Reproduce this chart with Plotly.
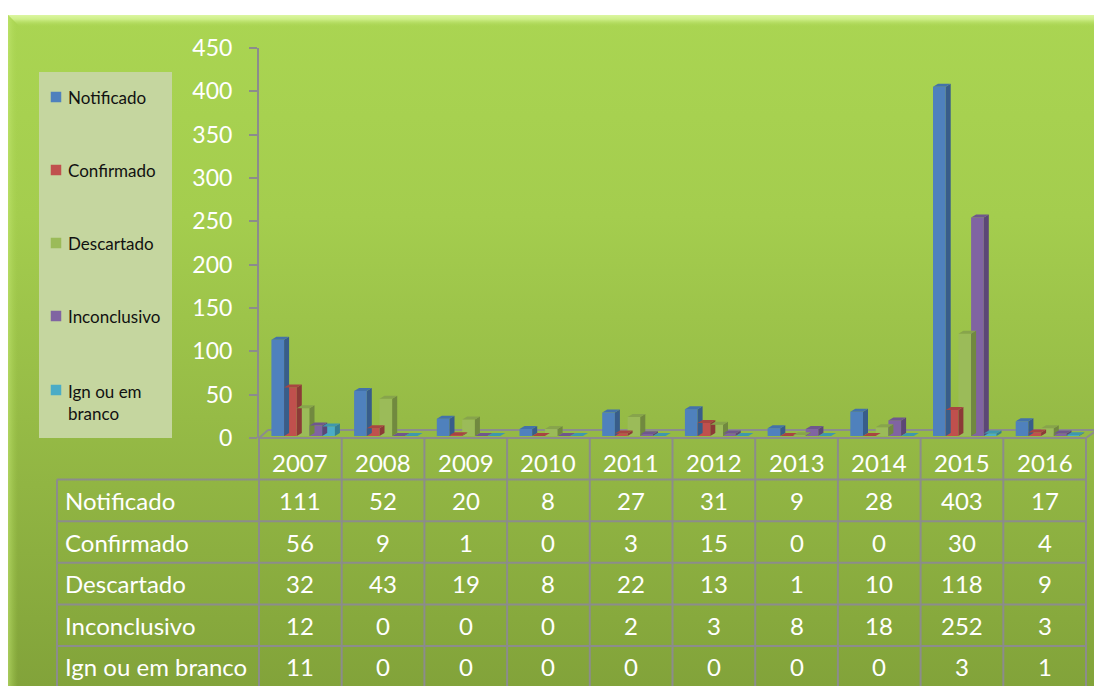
import plotly.graph_objects as go

# ---------------- data ----------------
years = ['2007', '2008', '2009', '2010', '2011', '2012', '2013', '2014', '2015', '2016']
series_names = ['Notificado', 'Confirmado', 'Descartado', 'Inconclusivo', 'Ign ou em branco']
notificado = [111, 52, 20, 8, 27, 31, 9, 28, 403, 17]
confirmado = [56, 9, 1, 0, 3, 15, 0, 0, 30, 4]
descartado = [32, 43, 19, 8, 22, 13, 1, 10, 118, 9]
inconclusivo = [12, 0, 0, 0, 2, 3, 8, 18, 252, 3]
ign_branco = [11, 0, 0, 0, 0, 0, 0, 0, 3, 1]
y_ticks = [0, 50, 100, 150, 200, 250, 300, 350, 400, 450]

series_values = [notificado, confirmado, descartado, inconclusivo, ign_branco]
front_colors = ['#4f81bd', '#c0504d', '#9bbb59', '#8064a2', '#4bacc6']
side_colors = ['#385d8a', '#8c3a37', '#71893f', '#5c4776', '#357d91']
top_colors = ['#4372aa', '#a84542', '#87a44c', '#6f578e', '#3f97ae']
legend_labels = {'Ign ou em branco': 'Ign ou em<br>branco'}

# ---------------- layout geometry (screen pixels) ----------------
W, H = 1102, 686
OFF = 8                 # page body margin: figure origin on screen
PANEL_L, PANEL_T = 8, 15
PLOT_L = 259            # y axis / first table column line
CAT_W = 82.7            # width of one category
Y_ZERO, Y_TOP = 438, 48  # screen rows of 0 and 450
PX_PER_UNIT = (Y_ZERO - Y_TOP) / 450.0
ROW_H = 41.6
LABEL_COL_L = 57
N = len(years)
PLOT_R = PLOT_L + N * CAT_W


def fx(X):
    return (X - OFF) / W


def fy(Y):
    return 1 - (Y - OFF) / H


BAR_OFF = 12.4 / CAT_W
BAR_W = 12.7 / CAT_W
DX = 5.0 / CAT_W
DY = 3.0 / PX_PER_UNIT
BASE = 2.0 / PX_PER_UNIT

GRID = '#8c8c8c'
FONT = 'Lato, "Open Sans", sans-serif'

fig = go.Figure()
SX, SY = W + OFF, H + OFF

# ---------- background (screen-pixel subplot xy) ----------
fig.add_trace(go.Scatter(
    x=[3, PANEL_L, PANEL_L, 3, 3], y=[22, 22, SY, SY, 22], fill='toself', mode='none',
    fillgradient=dict(type='horizontal', start=3, stop=PANEL_L,
                      colorscale=[[0, 'rgba(255,255,255,1)'], [1, 'rgba(175,175,175,1)']]),
    hoverinfo='skip', showlegend=False))
fig.add_trace(go.Scatter(
    x=[PANEL_L, SX, SX, PANEL_L, PANEL_L], y=[PANEL_T, PANEL_T, SY, SY, PANEL_T],
    fill='toself', mode='none',
    fillgradient=dict(type='vertical', start=PANEL_T, stop=H,
                      colorscale=[[0, '#aad552'], [0.3, '#a4cd4e'], [0.6, '#96bb46'],
                                  [1, '#82a33a']]),
    hoverinfo='skip', showlegend=False))
fig.add_trace(go.Scatter(
    x=[PANEL_L, SX, SX, PANEL_L + 12, PANEL_L], y=[PANEL_T, PANEL_T, PANEL_T + 12, PANEL_T + 12, PANEL_T],
    fill='toself', mode='none',
    fillgradient=dict(type='vertical', start=PANEL_T, stop=PANEL_T + 12,
                      colorscale=[[0, 'rgba(225,250,170,0.9)'], [0.35, 'rgba(215,245,150,0.8)'],
                                  [1, 'rgba(170,213,82,0)']]),
    hoverinfo='skip', showlegend=False))
fig.add_trace(go.Scatter(
    x=[PANEL_L, PANEL_L + 10, PANEL_L + 10, PANEL_L, PANEL_L], y=[PANEL_T, PANEL_T + 10, SY, SY, PANEL_T],
    fill='toself', mode='none',
    fillgradient=dict(type='horizontal', start=PANEL_L, stop=PANEL_L + 10,
                      colorscale=[[0, 'rgba(200,235,120,0.55)'], [1, 'rgba(170,213,82,0)']]),
    hoverinfo='skip', showlegend=False))

# legend box
LEG_L, LEG_R, LEG_T, LEG_B = 39, 172, 72, 438
fig.add_trace(go.Scatter(
    x=[LEG_L, LEG_R, LEG_R, LEG_L, LEG_L], y=[LEG_T, LEG_T, LEG_B, LEG_B, LEG_T],
    fill='toself', fillcolor='#c5d69f', mode='none', hoverinfo='skip', showlegend=False))
leg_y = [97, 170, 243, 316, 390]
for name, col, ly in zip(series_names, front_colors, leg_y):
    fig.add_trace(go.Scatter(
        x=[56], y=[ly], mode='markers',
        marker=dict(symbol='square', size=10.5, color=col, line=dict(width=0)),
        hoverinfo='skip', showlegend=False))

# floor (3D base) lines
flx, fly = [], []
floor_dx, floor_dy = 9, 8
for seg in [((PLOT_L, Y_ZERO), (PLOT_L + floor_dx, Y_ZERO - floor_dy)),
            ((PLOT_L + floor_dx, Y_ZERO - floor_dy), (PLOT_R + floor_dx + 2, Y_ZERO - floor_dy)),
            ((PLOT_R, Y_ZERO), (PLOT_R + floor_dx + 2, Y_ZERO - floor_dy))]:
    flx += [seg[0][0], seg[1][0], None]
    fly += [seg[0][1], seg[1][1], None]
fig.add_trace(go.Scatter(x=flx, y=fly, mode='lines', line=dict(color=GRID, width=2),
                         hoverinfo='skip', showlegend=False))

# table grid lines
tx, ty = [], []
table_bottom = Y_ZERO + ROW_H * 6
tx += [PLOT_L, PLOT_R, None]; ty += [Y_ZERO, Y_ZERO, None]
for r in range(1, 7):
    yy = Y_ZERO + ROW_H * r
    tx += [LABEL_COL_L, PLOT_R, None]; ty += [yy, yy, None]
tx += [LABEL_COL_L, LABEL_COL_L, None]; ty += [Y_ZERO + ROW_H, table_bottom, None]
for c in range(N + 1):
    xx = PLOT_L + CAT_W * c
    tx += [xx, xx, None]; ty += [Y_ZERO, table_bottom, None]
fig.add_trace(go.Scatter(x=tx, y=ty, mode='lines', line=dict(color=GRID, width=2),
                         hoverinfo='skip', showlegend=False))

# ---------- bars (data subplot x2y2) ----------
for j, (name, vals) in enumerate(zip(series_names, series_values)):
    xl = [i + BAR_OFF + j * BAR_W for i in range(N)]
    fig.add_trace(go.Bar(
        x=[v + BAR_W / 2 for v in xl], y=vals, base=BASE, width=BAR_W,
        marker=dict(color=front_colors[j], line=dict(width=0)),
        xaxis='x2', yaxis='y2', name=name, showlegend=False, hoverinfo='skip'))
    sx, sy, px_, py_ = [], [], [], []
    for i, v in enumerate(vals):
        l = xl[i]; r = l + BAR_W; top = BASE + v
        sx += [r, r + DX, r + DX, r, r, None]
        sy += [BASE, BASE + DY, top + DY, top, BASE, None]
        px_ += [l, l + DX, r + DX, r, l, None]
        py_ += [top, top + DY, top + DY, top, top, None]
    fig.add_trace(go.Scatter(x=sx, y=sy, fill='toself', fillcolor=side_colors[j], mode='none',
                             xaxis='x2', yaxis='y2', hoverinfo='skip', showlegend=False))
    fig.add_trace(go.Scatter(x=px_, y=py_, fill='toself', fillcolor=top_colors[j], mode='none',
                             xaxis='x2', yaxis='y2', hoverinfo='skip', showlegend=False))

# ---------- annotations ----------
ann = []
for name, ly in zip(series_names, leg_y):
    label = legend_labels.get(name, name)
    multi = '<br>' in label
    ann.append(dict(x=66, y=ly - (11 if multi else 0), xref='x', yref='y', text=label,
                    showarrow=False, xanchor='left', yanchor='top' if multi else 'middle',
                    align='left', font=dict(family=FONT, size=17, color='#111111')))
for i, yr in enumerate(years):
    ann.append(dict(x=PLOT_L + CAT_W * (i + 0.5), y=Y_ZERO + ROW_H * 0.6, xref='x', yref='y',
                    text=yr, showarrow=False, font=dict(family=FONT, size=24, color='white')))
for r, (name, vals) in enumerate(zip(series_names, series_values)):
    yy = Y_ZERO + ROW_H * (r + 1.5)
    ann.append(dict(x=63, y=yy, xref='x', yref='y', text=name, showarrow=False, xanchor='left',
                    font=dict(family=FONT, size=24, color='white')))
    for i, v in enumerate(vals):
        ann.append(dict(x=PLOT_L + CAT_W * (i + 0.5), y=yy, xref='x', yref='y', text=str(v),
                        showarrow=False, font=dict(family=FONT, size=24, color='white')))

fig.update_layout(
    width=W, height=H, margin=dict(l=0, r=0, t=0, b=0, autoexpand=False),
    paper_bgcolor='white', plot_bgcolor='rgba(0,0,0,0)',
    showlegend=False, barmode='overlay',
    xaxis=dict(domain=[0, 1], range=[OFF, SX], visible=False, fixedrange=True, automargin=False),
    yaxis=dict(domain=[0, 1], range=[SY, OFF], visible=False, fixedrange=True, automargin=False),
    xaxis2=dict(domain=[fx(PLOT_L), 1], range=[0, (SX - PLOT_L) / CAT_W], visible=False,
                anchor='y2', fixedrange=True, automargin=False),
    yaxis2=dict(domain=[fy(Y_ZERO), fy(Y_TOP)], range=[0, 450], anchor='x2',
                tickvals=y_ticks, ticks='outside', ticklen=8, tickwidth=2, tickcolor=GRID,
                showline=True, linecolor=GRID, linewidth=2, showgrid=False, zeroline=False,
                ticklabelstandoff=12, automargin=False,
                tickfont=dict(family=FONT, size=23, color='white'), fixedrange=True),
    annotations=ann,
)

fig.write_html('out.html')
